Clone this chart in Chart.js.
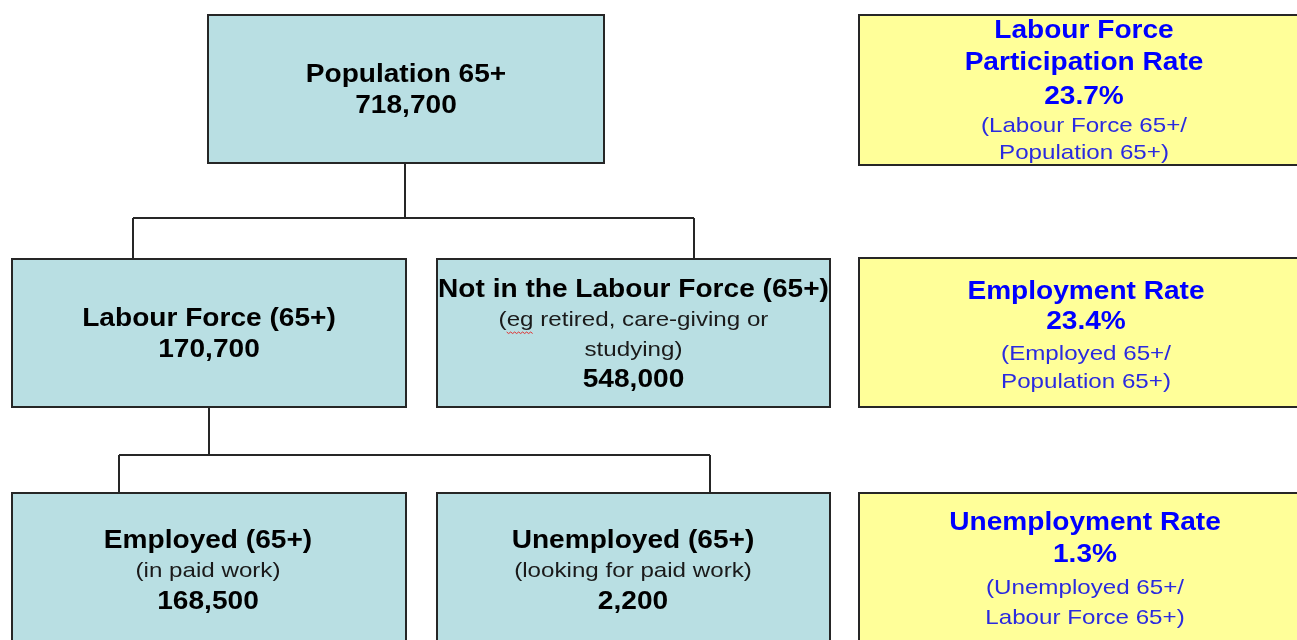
<!DOCTYPE html>
<html>
<head>
<meta charset="utf-8">
<script src="https://cdn.jsdelivr.net/npm/chart.js@4/dist/chart.umd.min.js"></script>
<style>
  html, body { margin: 0; padding: 0; background: #ffffff; }
  #wrap { width: 1297px; height: 640px; position: relative; }
</style>
</head>
<body>
<div id="wrap"><canvas id="c" width="1297" height="640"></canvas></div>
<script>
// ---------- DATA ----------
const categories = ['Population 65+', 'Labour Force (65+)', 'Not in the Labour Force (65+)', 'Employed (65+)', 'Unemployed (65+)'];
const notes = ['', '', '(eg retired, care-giving or\nstudying)', '(in paid work)', '(looking for paid work)'];
const counts = [718700, 170700, 548000, 168500, 2200];
const rateNames = ['Labour Force\nParticipation Rate', 'Employment Rate', 'Unemployment Rate'];
const rateValues = [23.7, 23.4, 1.3];
const rateFormulas = ['(Labour Force 65+/\nPopulation 65+)', '(Employed 65+/\nPopulation 65+)', '(Unemployed 65+/\nLabour Force 65+)'];

// ---------- LAYOUT (scale units, 1 unit = 1 px) ----------
const boxLayout = [
  { x0: 208, x1: 604, y0: 15, y1: 163, cx: 406, base: [82, 113] },
  { x0: 12, x1: 406, y0: 259, y1: 407, cx: 209, base: [326, 357] },
  { x0: 437, x1: 830, y0: 259, y1: 407, cx: 633.5, base: [297, 326, 356, 387] },
  { x0: 12, x1: 406, y0: 493, y1: 662, cx: 208, base: [548, 577, 609] },
  { x0: 437, x1: 830, y0: 493, y1: 662, cx: 633, base: [548, 577, 609] }
];
const rateLayout = [
  { x0: 859, x1: 1310, y0: 15, y1: 165, cx: 1084, base: [38, 70, 104, 132, 159] },
  { x0: 859, x1: 1310, y0: 258, y1: 407, cx: 1086, base: [299, 329, 360, 388] },
  { x0: 859, x1: 1310, y0: 493, y1: 662, cx: 1085, base: [530, 562, 594, 624] }
];
const connectorLayout = [
  { parentX: 405, fromY: 163, busY: 218, drops: [133, 694], toY: 259 },
  { parentX: 209, fromY: 407, busY: 455, drops: [119, 710], toY: 493 }
];

const FONT = '"Liberation Sans", Arial, "DejaVu Sans", sans-serif';
const styles = {
  bold:    { font: 'bold 26px ' + FONT, sx: 1.08 },
  regular: { font: '21px ' + FONT, sx: 1.15 }
};
const colors = {
  blueFill: '#B9DFE3', yellowFill: '#FFFF99', border: '#262626',
  black: '#000000', darkText: '#1a1a1a', blue: '#0000FF', blueReg: '#2a2ae0'
};

function fmtCount(v) { return v.toLocaleString('en-US'); }
function fmtRate(v) { return v.toFixed(1) + '%'; }

function drawText(ctx, text, x, y, style, color) {
  const st = styles[style];
  ctx.save();
  ctx.font = st.font;
  ctx.fillStyle = color;
  ctx.textAlign = 'center';
  ctx.textBaseline = 'alphabetic';
  ctx.translate(x, y);
  ctx.scale(st.sx, 1);
  ctx.fillText(text, 0, 0);
  ctx.restore();
}

const orgPlugin = {
  id: 'orgPlugin',
  afterDraw(chart) {
    const ctx = chart.ctx;
    const xs = chart.scales.x, ys = chart.scales.y;
    const px = v => xs.getPixelForValue(v);
    const py = v => ys.getPixelForValue(v);

    // connectors
    ctx.save();
    ctx.strokeStyle = colors.border;
    ctx.lineWidth = 2;
    connectorLayout.forEach(c => {
      ctx.beginPath();
      ctx.moveTo(px(c.parentX), py(c.fromY));
      ctx.lineTo(px(c.parentX), py(c.busY));
      ctx.moveTo(px(c.drops[0]), py(c.busY));
      ctx.lineTo(px(c.drops[1]), py(c.busY));
      c.drops.forEach(d => {
        ctx.moveTo(px(d), py(c.busY));
        ctx.lineTo(px(d), py(c.toY));
      });
      ctx.stroke();
    });
    ctx.restore();

    function box(L, fill) {
      const x0 = px(L.x0), x1 = px(L.x1), y0 = py(L.y0), y1 = py(L.y1);
      ctx.save();
      ctx.fillStyle = fill;
      ctx.fillRect(x0, y0, x1 - x0, y1 - y0);
      ctx.strokeStyle = colors.border;
      ctx.lineWidth = 2;
      ctx.strokeRect(x0, y0, x1 - x0, y1 - y0);
      ctx.restore();
    }

    // population boxes
    categories.forEach((cat, i) => {
      const L = boxLayout[i];
      box(L, colors.blueFill);
      const lines = [{ t: cat, s: 'bold', c: colors.black }];
      if (notes[i]) notes[i].split('\n').forEach(n => lines.push({ t: n, s: 'regular', c: colors.darkText }));
      lines.push({ t: fmtCount(counts[i]), s: 'bold', c: colors.black });
      lines.forEach((ln, k) => drawText(ctx, ln.t, px(L.cx), py(L.base[k]), ln.s, ln.c));
      // spell-check squiggle under "eg"
      if (notes[i] && notes[i].startsWith('(eg')) {
        ctx.save();
        ctx.font = styles.regular.font;
        const first = notes[i].split('\n')[0];
        const full = ctx.measureText(first).width * styles.regular.sx;
        const pre = ctx.measureText('(').width * styles.regular.sx;
        const eg = ctx.measureText('eg').width * styles.regular.sx;
        const sx0 = px(L.cx) - full / 2 + pre;
        const sy = py(L.base[1]) + 6;
        ctx.strokeStyle = '#e03030';
        ctx.lineWidth = 1;
        ctx.beginPath();
        for (let xx = 0; xx <= eg; xx += 2) {
          const yy = sy + ((Math.round(xx / 2) % 2) ? 1.5 : 0);
          if (xx === 0) ctx.moveTo(sx0 + xx, yy); else ctx.lineTo(sx0 + xx, yy);
        }
        ctx.stroke();
        ctx.restore();
      }
    });

    // rate boxes
    rateNames.forEach((nm, i) => {
      const L = rateLayout[i];
      box(L, colors.yellowFill);
      const lines = [];
      nm.split('\n').forEach(n => lines.push({ t: n, s: 'bold', c: colors.blue }));
      lines.push({ t: fmtRate(rateValues[i]), s: 'bold', c: colors.blue });
      rateFormulas[i].split('\n').forEach(n => lines.push({ t: n, s: 'regular', c: colors.blueReg }));
      lines.forEach((ln, k) => drawText(ctx, ln.t, px(L.cx), py(L.base[k]), ln.s, ln.c));
    });
  }
};

new Chart(document.getElementById('c'), {
  type: 'scatter',
  data: { datasets: [] },
  options: {
    responsive: false,
    animation: false,
    devicePixelRatio: 1,
    layout: { padding: 0 },
    plugins: { legend: { display: false }, tooltip: { enabled: false }, title: { display: false } },
    scales: {
      x: { type: 'linear', min: 0, max: 1297, display: false },
      y: { type: 'linear', min: 0, max: 640, reverse: true, display: false }
    }
  },
  plugins: [orgPlugin]
});
</script>
</body>
</html>
